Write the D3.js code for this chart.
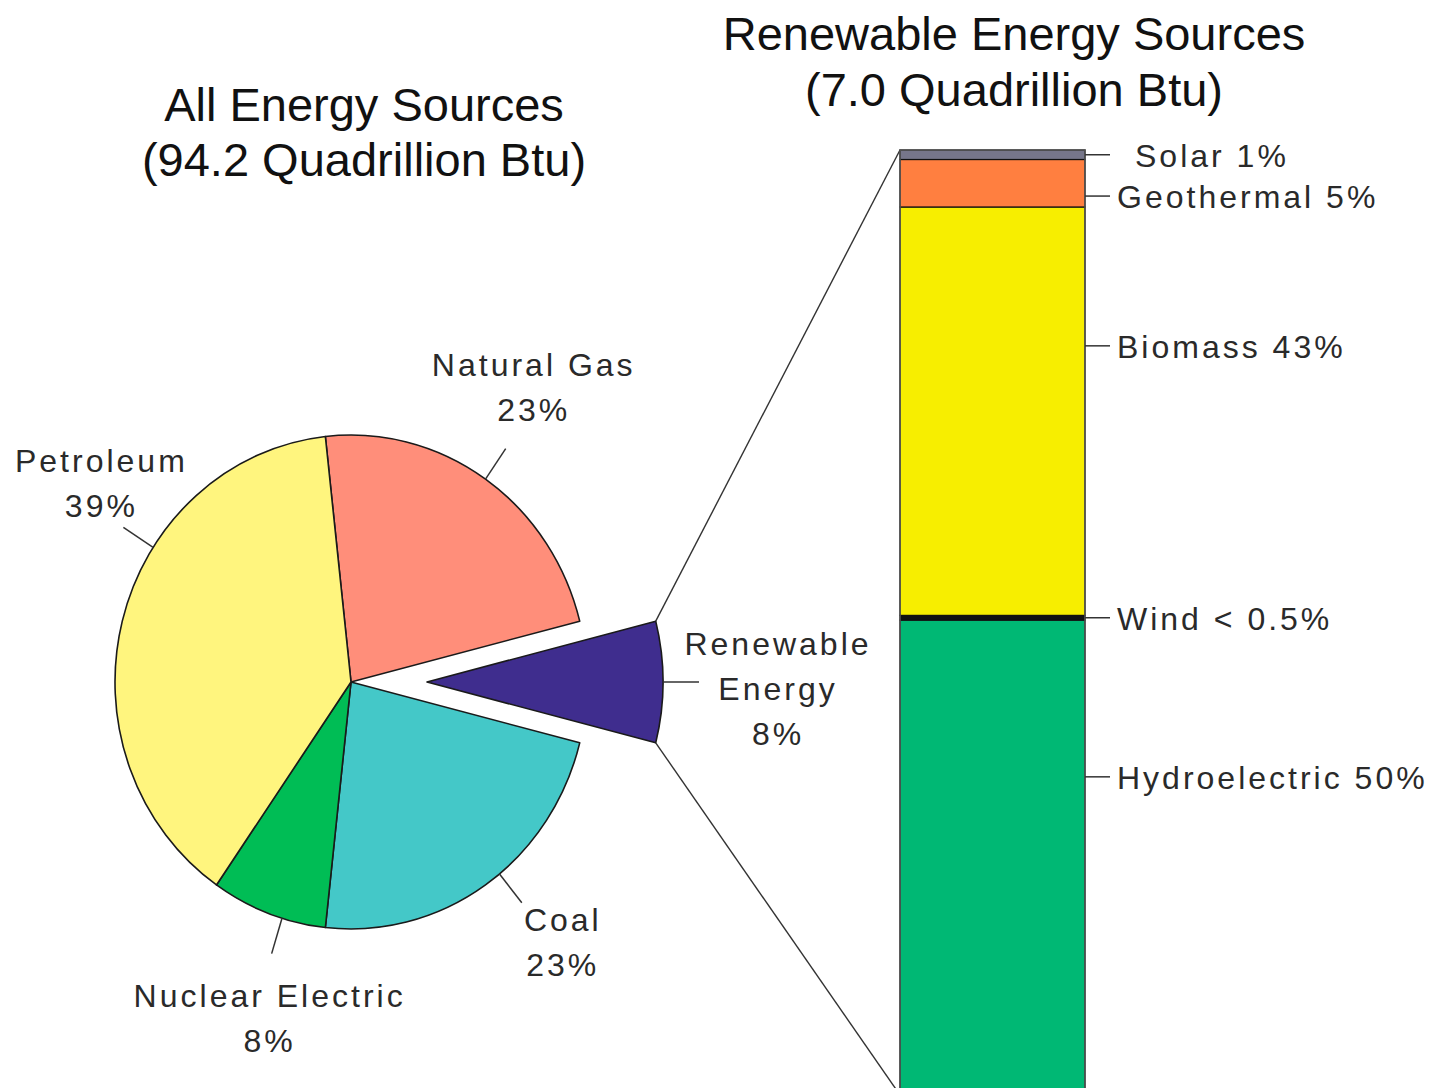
<!DOCTYPE html>
<html>
<head>
<meta charset="utf-8">
<script src="https://cdn.jsdelivr.net/npm/d3@7"></script>
<style>
  body { margin: 0; background: #fff; }
  svg { display: block; }
  text { font-family: "Liberation Sans", Arial, sans-serif; fill: #1e1e1e; }
  .title { font-size: 47px; fill: #111; }
  .lbl { font-size: 32px; letter-spacing: 3px; fill: #2a2a2a; }
</style>
</head>
<body>
<svg id="chart" width="1434" height="1088"></svg>
<script>
// U.S. energy consumption by source (shares of 94.2 quadrillion Btu)
const sources = ["Natural Gas", "Renewable Energy", "Coal", "Nuclear Electric", "Petroleum"];
const sourceShares = [23, 8, 23, 8, 39];
const sourceColors = ["#ff8e7a", "#3f2d8e", "#44c8c8", "#00bd55", "#fff57e"];
const sourceLabelLines = [
  ["Natural Gas", "23%"],
  ["Renewable", "Energy", "8%"],
  ["Coal", "23%"],
  ["Nuclear Electric", "8%"],
  ["Petroleum", "39%"]
];

// Renewable energy breakdown, stacked bottom to top (shares of 7.0 quadrillion Btu)
const renewables = ["Hydroelectric", "Wind", "Biomass", "Geothermal", "Solar"];
const renewableShares = [50, 0.5, 43, 5, 1];
const renewableLabels = ["Hydroelectric 50%", "Wind < 0.5%", "Biomass 43%", "Geothermal 5%", "Solar 1%"];
const renewableColors = ["#00b874", "#111111", "#f7ee00", "#ff7f40", "#76768a"];

const leftTitle = ["All Energy Sources", "(94.2 Quadrillion Btu)"];
const rightTitle = ["Renewable Energy Sources", "(7.0 Quadrillion Btu)"];

// ---- layout ----
const cx = 351, cy = 682, rx = 236, ry = 247, explode = 76;
const explodedIndex = 1;
// leader angle (deg) per slice; null = slice middle
const leaderAngles = [null, null, 141, 197, 303];
const labelOffsets = [
  { dx: 28, dy: -73 }, { dx: 79, dy: -27 }, { dx: 41, dy: 28 },
  { dx: -2, dy: 53 }, { dx: -22, dy: -55 }
];
const lineGap = 45;
const barLeft = 900, barRight = 1085, barTop = 150, barBottom = 1095;
const barLabelFrac = [0.33, 0.5, 0.34, 0.77, 0.5];
const barLabelDx = [32, 32, 32, 32, 50];

const svg = d3.select("#chart");

// ---- titles ----
const titleG = svg.append("g");
titleG.selectAll("text.l").data(leftTitle).join("text")
  .attr("class", "title").attr("text-anchor", "middle")
  .attr("x", 364).attr("y", (d, i) => 121 + i * 55).text(d => d);
titleG.selectAll("text.r").data(rightTitle).join("text")
  .attr("class", "title").attr("text-anchor", "middle")
  .attr("x", 1014).attr("y", (d, i) => 50 + i * 56).text(d => d);

// ---- pie ----
const total = d3.sum(sourceShares);
const before = d3.sum(sourceShares.slice(0, explodedIndex)) + sourceShares[explodedIndex] / 2;
const start = Math.PI / 2 - before / total * 2 * Math.PI;
const pie = d3.pie().sort(null).value(d => d).startAngle(start).endAngle(start + 2 * Math.PI);
const arcs = pie(sourceShares);
const arc = d3.arc().innerRadius(0).outerRadius(rx);
const mid = a => (a.startAngle + a.endAngle) / 2;
const ept = (theta, f, ox = 0) => [cx + ox + f * rx * Math.sin(theta), cy - f * ry * Math.cos(theta)];

const pieG = svg.append("g").attr("transform", `translate(${cx},${cy}) scale(1,${ry / rx})`);
pieG.selectAll("path").data(arcs).join("path")
  .attr("d", arc)
  .attr("fill", (d, i) => sourceColors[i])
  .attr("stroke", "#1a1a1a").attr("stroke-width", 1.6)
  .attr("vector-effect", "non-scaling-stroke")
  .attr("stroke-linejoin", "round")
  .attr("transform", (d, i) => i === explodedIndex
    ? `translate(${explode * Math.sin(mid(d))},${-explode * Math.cos(mid(d)) * rx / ry})` : null);

// ---- leaders and labels for the pie ----
const lineColor = "#333";
arcs.forEach((a, i) => {
  let p0, p1;
  if (i === explodedIndex) {
    const m = mid(a);
    const ox = explode * Math.sin(m);
    p0 = ept(m, 1, ox);
    p1 = [p0[0] + 36 * Math.sin(m), p0[1] - 36 * Math.cos(m)];
  } else {
    const th = leaderAngles[i] == null ? mid(a) : leaderAngles[i] * Math.PI / 180;
    p0 = ept(th, 1);
    p1 = ept(th, 1.15);
  }
  svg.append("line")
    .attr("x1", p0[0]).attr("y1", p0[1]).attr("x2", p1[0]).attr("y2", p1[1])
    .attr("stroke", lineColor).attr("stroke-width", 1.5);
  const off = labelOffsets[i];
  svg.append("g").selectAll("text").data(sourceLabelLines[i]).join("text")
    .attr("class", "lbl").attr("text-anchor", "middle")
    .attr("x", p1[0] + off.dx).attr("y", (d, k) => p1[1] + off.dy + k * lineGap)
    .text(d => d);
});

// ---- stacked bar of renewable sources ----
const barTotal = d3.sum(renewableShares);
const y = d3.scaleLinear().domain([0, barTotal]).range([barBottom, barTop]);
const x = d3.scaleBand().domain(["Renewable Energy"]).range([barLeft, barRight]).padding(0);
const cum = d3.cumsum(renewableShares);
const segs = renewables.map((name, i) => ({ name, lo: cum[i] - renewableShares[i], hi: cum[i], i }));

// connectors from the exploded slice to the bar
const ra = arcs[explodedIndex];
const rox = explode * Math.sin(mid(ra));
const cTop = ept(ra.startAngle, 1, rox);
const cBot = ept(ra.endAngle, 1, rox);
svg.append("line").attr("x1", cTop[0]).attr("y1", cTop[1])
  .attr("x2", x("Renewable Energy")).attr("y2", y(barTotal))
  .attr("stroke", lineColor).attr("stroke-width", 1.4);
svg.append("line").attr("x1", cBot[0]).attr("y1", cBot[1])
  .attr("x2", x("Renewable Energy")).attr("y2", y(0))
  .attr("stroke", lineColor).attr("stroke-width", 1.4);

const barG = svg.append("g");
barG.selectAll("rect").data(segs).join("rect")
  .attr("x", x("Renewable Energy")).attr("width", x.bandwidth())
  .attr("y", d => y(d.hi)).attr("height", d => y(d.lo) - y(d.hi))
  .attr("fill", d => renewableColors[d.i])
  .attr("stroke", "#111").attr("stroke-width", 1.2);
barG.append("rect")
  .attr("x", x("Renewable Energy")).attr("width", x.bandwidth())
  .attr("y", y(barTotal)).attr("height", y(0) - y(barTotal))
  .attr("fill", "none").attr("stroke", "#555").attr("stroke-width", 1.5);

// bar labels
segs.forEach(d => {
  const yy = y(d.hi) + barLabelFrac[d.i] * (y(d.lo) - y(d.hi));
  const xr = x("Renewable Energy") + x.bandwidth();
  svg.append("line").attr("x1", xr).attr("x2", xr + 25).attr("y1", yy).attr("y2", yy)
    .attr("stroke", lineColor).attr("stroke-width", 1.5);
  svg.append("text").attr("class", "lbl")
    .attr("x", xr + barLabelDx[d.i]).attr("y", yy + 12)
    .text(renewableLabels[d.i]);
});
</script>
</body>
</html>
